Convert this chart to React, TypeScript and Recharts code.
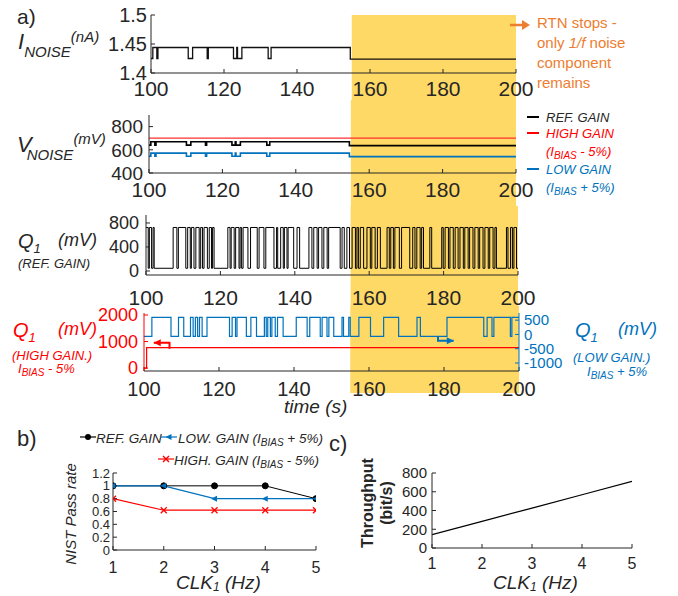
import React from "react";
import { LineChart, Line, XAxis, YAxis, ReferenceArea } from "recharts";

const W = 678;
const FONT = "'Liberation Sans', Arial, Helvetica, sans-serif";
const INK = "#262626";
const BAND = "#FFD966";
const ORANGE = "#ED7D31";
const BLUE = "#0072BD";
const RED = "#FF0000";

// ---- panel a) data, time axis in s ----
const timeTicks = [100, 120, 140, 160, 180, 200];
const rtnStop = 155;

type Pair = [number, number];

// I_NOISE (nA)
const iNoise: Pair[] = [
  [100, 1.425], [100.5, 1.444], [101.6, 1.425], [101.9, 1.444], [110.2, 1.425], [111.4, 1.444],
  [115.4, 1.425], [115.7, 1.444], [122.6, 1.425], [123.5, 1.444], [123.7, 1.425], [124.9, 1.444],
  [132.1, 1.425], [132.9, 1.444], [154.6, 1.424], [200, 1.424],
];

// V_NOISE (mV)
const vRef: Pair[] = [
  [100, 640], [100.5, 670], [101.6, 640], [101.9, 670], [110.2, 640], [111.4, 670],
  [115.4, 640], [115.7, 670], [122.6, 640], [123.5, 670], [123.7, 640], [124.9, 670],
  [132.1, 640], [132.9, 670], [154.6, 636], [200, 636],
];
const vHigh: Pair[] = [[100, 700], [200, 700]];
const vLow: Pair[] = [
  [100, 545], [100.5, 571], [101.6, 545], [101.9, 571], [110.2, 545], [111.4, 571],
  [115.4, 545], [115.7, 571], [122.6, 545], [123.5, 571], [123.7, 545], [124.9, 571],
  [132.1, 545], [132.9, 571], [154.6, 541], [200, 541],
];

// Q1 ref gain: switching times, level alternates high/low starting high
const q1RefEdges = [
  100, 100.6, 100.9, 101.5, 101.9, 102.2, 107.3, 108.3, 108.7, 110.7, 111.2, 111.9, 112.2, 112.9,
  113.4, 114.3, 114.7, 115.2, 115.6, 116.5, 117, 117.6, 117.9, 118.3, 122, 122.6, 122.9, 123.7,
  124.1, 125, 125.3, 125.7, 126.1, 127.4, 128.1, 129.9, 130.4, 131.7, 132.2, 134.4, 135.1, 135.4,
  136.2, 136.9, 137.2, 137.9, 138.2, 139.7, 140.6, 141.3, 143.8, 144.6, 145.1, 146, 146.4, 147.3,
  147.8, 148.7, 149.1, 152.2, 152.7, 153.3, 154, 154.7, 155.4, 156.3, 156.7, 157.1, 157.6, 158.5,
  159.4, 160.3, 160.7, 161.6, 162.2, 163, 164.8, 165.4, 165.8, 166.5, 166.9, 168.1, 168.7, 170.9,
  171.7, 172.3, 172.8, 173.7, 174.1, 174.6, 176.3, 176.8, 179.5, 179.9, 180.4, 181.3, 181.7, 182.6,
  183.1, 183.9, 184.4, 185.3, 185.7, 186.6, 187, 187.9, 188.4, 189.3, 189.7, 190.6, 191.1, 192,
  192.4, 193.3, 193.8, 194.2, 196.9, 197.3, 198, 198.5, 198.9, 199.6,
];
const q1RefLevels = [725, 45];

// Q1 high gain (left axis) and low gain (right axis)
const q1High: Pair[] = [[100, 0], [100.7, 770], [200, 770]];
const q1LowEdges = [
  100, 102.1, 107.2, 109.2, 110.6, 112.4, 113.1, 113.7, 114.3, 114.8, 115.5, 116.8, 122.8, 123.5,
  124.4, 124.8, 127.3, 128.5, 130, 132.1, 132.6, 133, 133.7, 134.1, 135, 135.6, 137.1, 140.6,
  143.5, 144.2, 147, 147.5, 148.8, 149.3, 150.6, 152.8, 153.2, 154.6, 155, 157.3, 160.4, 163.9,
  167.9, 172.8, 173.7, 180.8, 190.6, 191.5, 192.8, 193.3, 197.7, 198.1,
];
const q1LowLevels = [-70, 600];
const redArrow: Pair[] = [[106.8, 730], [106.8, 955], [102.6, 955]];
const blueArrow: Pair[] = [[178.4, -70], [178.4, -220], [182.6, -220]];

// ---- panels b) and c) ----
const clkHz = [1, 2, 3, 4, 5];
const passRef = [1, 1, 1, 1, 0.8];
const passLow = [1, 1, 0.8, 0.8, 0.8];
const passHigh = [0.8, 0.62, 0.62, 0.62, 0.62];
const passTicks = [0, 0.2, 0.4, 0.6, 0.8, 1, 1.2];
const throughput = [142, 284, 426, 568, 710];
const throughputTicks = [0, 200, 400, 600, 800];

const pts = (pairs: Pair[]) => pairs.map(([t, v]) => ({ t, v }));
const steps = (edges: number[], levels: number[]) => {
  const rows = edges.map((t, i) => ({ t, v: levels[i % 2] }));
  rows.push({ t: 200, v: levels[(edges.length - 1) % 2] });
  return rows;
};
const passRows = clkHz.map((c, i) => ({ clk: c, ref: passRef[i], low: passLow[i], high: passHigh[i] }));
const tputRows = clkHz.map((c, i) => ({ clk: c, v: throughput[i] }));

const noLabel = () => <g />;

function T({ x, y, s, c = INK, i, b, children }: any) {
  return (
    <div
      style={{
        position: "absolute", left: x, top: y - 0.846 * s, fontSize: s, lineHeight: 1, color: c,
        fontStyle: i ? "italic" : "normal", fontWeight: b ? "bold" : "normal", whiteSpace: "nowrap",
      }}
    >
      {children}
    </div>
  );
}
const Sub = ({ children, s = "0.72em", dy = "0.3em", ml = 0 }: any) => (
  <span style={{ fontSize: s, position: "relative", top: dy, marginLeft: ml }}>{children}</span>
);

const arrowHead = (color: string, last: number, dir: number) => (props: any) => {
  const { cx, cy, index } = props;
  if (index !== last || cx == null) return <g key={`a${index}`} />;
  const bx = cx - dir * 7;
  return <path key={`a${index}`} d={`M${cx},${cy}L${bx},${cy - 3.5}L${bx},${cy + 3.5}Z`} fill={color} />;
};

function Trace(p: any) {
  const { top, h, l, r, pt, pb, yDomain, yTicks, yFont, xGap, yGap, bandTop, bandBottom, children } = p;
  const yw = 70;
  const [d0, d1] = yDomain;
  const at = (px: number) => d1 - ((px - pt) / (pb - pt)) * (d1 - d0);
  return (
    <div style={{ position: "absolute", left: 0, top }}>
      <LineChart width={W} height={h} margin={{ top: pt - top, right: W - r, bottom: 0, left: l - yw }}>
        <ReferenceArea x1={rtnStop} x2={200} y1={at(bandBottom)} y2={at(bandTop)} fill={BAND} fillOpacity={1} stroke="none" ifOverflow="visible" />
        {children}
        <XAxis dataKey="t" type="number" domain={[100, 200]} ticks={timeTicks} interval={0} allowDataOverflow
          height={top + h - pb} tickSize={-4} tickMargin={xGap + 4} stroke={INK} tick={{ fill: INK, fontSize: 21 }} />
        <XAxis xAxisId="top" orientation="top" type="number" domain={[100, 200]} ticks={timeTicks} interval={0}
          allowDataOverflow height={0} tickSize={-4} stroke={INK} tick={noLabel} />
        <YAxis type="number" domain={yDomain} ticks={yTicks} interval={0} allowDataOverflow width={yw}
          tickSize={-4} tickMargin={yGap + 4} stroke={INK} tick={{ fill: INK, fontSize: yFont }} />
        <YAxis yAxisId="right" orientation="right" type="number" domain={yDomain} ticks={yTicks} interval={0}
          allowDataOverflow width={0} tickSize={-4} stroke={INK} tick={noLabel} />
      </LineChart>
    </div>
  );
}

function SmallChart(p: any) {
  const { top, h, l, r, pt, pb, yDomain, yTicks, yFont, xGap, yGap, data, children } = p;
  const yw = 50;
  return (
    <div style={{ position: "absolute", left: 0, top }}>
      <LineChart width={W} height={h} data={data} margin={{ top: pt - top, right: W - r, bottom: 0, left: l - yw }}>
        {children}
        <XAxis dataKey="clk" type="number" domain={[1, 5]} ticks={clkHz} interval={0} allowDataOverflow
          height={top + h - pb} tickSize={-4} tickMargin={xGap + 4} stroke={INK} tick={{ fill: INK, fontSize: 16 }} />
        <XAxis xAxisId="top" orientation="top" type="number" domain={[1, 5]} ticks={clkHz} interval={0}
          allowDataOverflow height={0} tickSize={-4} stroke={INK} tick={noLabel} />
        <YAxis type="number" domain={yDomain} ticks={yTicks} interval={0} allowDataOverflow width={yw}
          tickSize={-4} tickMargin={yGap + 4} stroke={INK} tick={{ fill: INK, fontSize: yFont }} />
        <YAxis yAxisId="right" orientation="right" type="number" domain={yDomain} ticks={yTicks} interval={0}
          allowDataOverflow width={0} tickSize={-4} stroke={INK} tick={noLabel} />
      </LineChart>
    </div>
  );
}

function Q1Split() {
  const top = 306, h = 92, l = 144, r = 519, pt = 313, pb = 371;
  const dL = [-110, 2075];
  const at = (px: number) => dL[1] - ((px - pt) / (pb - pt)) * (dL[1] - dL[0]);
  return (
    <div style={{ position: "absolute", left: 0, top }}>
      <LineChart width={W} height={h} margin={{ top: pt - top, right: W - r - 60, bottom: 0, left: l - 70 }}>
        <ReferenceArea yAxisId="L" x1={rtnStop} x2={200} y1={at(393)} y2={at(top)} fill={BAND} fillOpacity={1} stroke="none" ifOverflow="visible" />
        <Line data={steps(q1LowEdges, q1LowLevels)} yAxisId="R" dataKey="v" type="stepAfter" stroke={BLUE} strokeWidth={1.2} dot={false} isAnimationActive={false} />
        <Line data={pts(q1High)} yAxisId="L" dataKey="v" type="stepAfter" stroke={RED} strokeWidth={1.2} dot={false} isAnimationActive={false} />
        <Line data={pts(redArrow)} yAxisId="L" dataKey="v" type="linear" stroke={RED} strokeWidth={2} dot={arrowHead(RED, 2, -1)} isAnimationActive={false} />
        <Line data={pts(blueArrow)} yAxisId="R" dataKey="v" type="linear" stroke={BLUE} strokeWidth={2} dot={arrowHead(BLUE, 2, 1)} isAnimationActive={false} />
        <XAxis dataKey="t" type="number" domain={[100, 200]} ticks={timeTicks} interval={0} allowDataOverflow
          height={top + h - pb} tickSize={-4} tickMargin={15} stroke={INK} tick={{ fill: INK, fontSize: 20 }} />
        <XAxis xAxisId="top" orientation="top" type="number" domain={[100, 200]} ticks={timeTicks} interval={0}
          allowDataOverflow height={0} tickSize={-4} stroke={INK} tick={noLabel} />
        <YAxis yAxisId="L" type="number" domain={dL} ticks={[0, 1000, 2000]} interval={0} allowDataOverflow width={70}
          tickSize={-4} tickMargin={10} stroke={RED} tick={{ fill: RED, fontSize: 18 }} />
        <YAxis yAxisId="R" orientation="right" type="number" domain={[-1280, 750]} ticks={[-1000, -500, 0, 500]} interval={0}
          allowDataOverflow width={60} tickSize={-4} tickMargin={9} stroke={BLUE} tick={{ fill: BLUE, fontSize: 15 }} />
      </LineChart>
    </div>
  );
}

const LegendLine = ({ x, y, color }: any) => (
  <div style={{ position: "absolute", left: x, top: y - 1.25, width: 12, height: 2.5, background: color }} />
);

function Marker({ x, y, color, kind }: any) {
  return (
    <svg style={{ position: "absolute", left: x, top: y - 6 }} width={16} height={12}>
      <line x1={0} y1={6} x2={16} y2={6} stroke={color} strokeWidth={1.2} />
      {kind === "dot" && <circle cx={8} cy={6} r={3} fill={color} />}
      {kind === "tri" && <path d="M4.5,6L10.5,3L10.5,9Z" fill={color} />}
      {kind === "x" && <path d="M5,3L11,9M5,9L11,3" stroke={color} strokeWidth={1.4} />}
    </svg>
  );
}

export default function App() {
  const dotTri = (props: any) => {
    const { cx, cy, index } = props;
    return <path key={`t${index}`} d={`M${cx - 3.5},${cy}L${cx + 2.5},${cy - 3}L${cx + 2.5},${cy + 3}Z`} fill={BLUE} />;
  };
  const dotX = (props: any) => {
    const { cx, cy, index } = props;
    return <path key={`x${index}`} d={`M${cx - 3},${cy - 3}L${cx + 3},${cy + 3}M${cx - 3},${cy + 3}L${cx + 3},${cy - 3}`} stroke={RED} strokeWidth={1.3} />;
  };

  return (
    <div style={{ position: "absolute", left: 0, top: 0, width: W, height: 596, background: "#fff", fontFamily: FONT, color: INK }}>
      <style>{`.recharts-surface{overflow:visible}`}</style>

      <Trace top={0} h={100} l={151} r={516} pt={15} pb={73} yDomain={[1.4, 1.5]} yTicks={[1.4, 1.45, 1.5]}
        yFont={20} xGap={8} yGap={4} bandTop={15} bandBottom={100}>
        <Line data={pts(iNoise)} dataKey="v" type="stepAfter" stroke="#111" strokeWidth={1.3} dot={false} isAnimationActive={false} />
      </Trace>

      <Trace top={100} h={106} l={149} r={516} pt={115} pb={173} yDomain={[400, 900]} yTicks={[400, 600, 800]}
        yFont={19} xGap={9} yGap={6} bandTop={100} bandBottom={206}>
        <Line data={pts(vHigh)} dataKey="v" type="stepAfter" stroke="#FF3030" strokeWidth={1.3} dot={false} isAnimationActive={false} />
        <Line data={pts(vRef)} dataKey="v" type="stepAfter" stroke="#000" strokeWidth={1.6} dot={false} isAnimationActive={false} />
        <Line data={pts(vLow)} dataKey="v" type="stepAfter" stroke={BLUE} strokeWidth={1.6} dot={false} isAnimationActive={false} />
      </Trace>

      <Trace top={206} h={100} l={146} r={518} pt={215} pb={275} yDomain={[-67, 933]} yTicks={[0, 400, 800]}
        yFont={18} xGap={15} yGap={7} bandTop={206} bandBottom={306}>
        <Line data={steps(q1RefEdges, q1RefLevels)} dataKey="v" type="stepAfter" stroke="#000" strokeWidth={1} dot={false} isAnimationActive={false} />
      </Trace>

      <Q1Split />

      {/* panel a) labels */}
      <T x={17} y={24} s={21}>a)</T>
      <T x={18} y={50} s={22} i>I<Sub s={15} dy="0.5em">NOISE</Sub><Sub s={15} dy="-0.5em">(nA)</Sub></T>
      <T x={17} y={153} s={22} i>V<Sub s={15} dy="0.5em" ml={-5}>NOISE</Sub><Sub s={15} dy="-0.55em">(mV)</Sub></T>
      <T x={18} y={248} s={20} i>Q<Sub s={13} dy="0.35em">1</Sub></T>
      <T x={58} y={246} s={18} i>(mV)</T>
      <T x={18} y={268} s={13} i>(REF. GAIN)</T>

      <T x={13} y={337} s={20} i c={RED}>Q<Sub s={13} dy="0.35em">1</Sub></T>
      <T x={58} y={335} s={18} i c={RED}>(mV)</T>
      <T x={12} y={360} s={13} i c={RED}>(HIGH GAIN.)</T>
      <T x={18} y={373} s={13} i c={RED}>I<Sub s={10}>BIAS</Sub> - 5%</T>

      <T x={575} y={337} s={20} i c={BLUE}>Q<Sub s={13} dy="0.35em">1</Sub></T>
      <T x={618} y={335} s={18} i c={BLUE}>(mV)</T>
      <T x={573} y={362} s={13} i c={BLUE}>(LOW GAIN.)</T>
      <T x={587} y={376} s={13} i c={BLUE}>I<Sub s={10}>BIAS</Sub> + 5%</T>

      <T x={284} y={413} s={19} i>time (s)</T>

      {/* RTN note */}
      <svg style={{ position: "absolute", left: 508, top: 19 }} width={24} height={12}>
        <line x1={2} y1={6} x2={15} y2={6} stroke={ORANGE} strokeWidth={2.5} />
        <path d="M14,1L22,6L14,11Z" fill={ORANGE} />
      </svg>
      <T x={537} y={28} s={15} c={ORANGE}>RTN stops -</T>
      <T x={537} y={48} s={15} c={ORANGE}>only <i>1/f</i> noise</T>
      <T x={537} y={68} s={15} c={ORANGE}>component</T>
      <T x={537} y={88} s={15} c={ORANGE}>remains</T>

      {/* V_NOISE legend */}
      <LegendLine x={527} y={117} color="#000" />
      <T x={546} y={122} s={13} i>REF. GAIN</T>
      <LegendLine x={527} y={133} color={RED} />
      <T x={546} y={138} s={13} i c={RED}>HIGH GAIN</T>
      <T x={546} y={156} s={13} i c={RED}>(I<Sub s={10}>BIAS</Sub> - 5%)</T>
      <LegendLine x={527} y={169} color={BLUE} />
      <T x={546} y={174} s={13} i c={BLUE}>LOW GAIN</T>
      <T x={546} y={192} s={13} i c={BLUE}>(I<Sub s={10}>BIAS</Sub> + 5%)</T>

      {/* panel b) */}
      <SmallChart top={465} h={131} l={113} r={316} pt={473} pb={550} yDomain={[0, 1.2]} yTicks={passTicks}
        yFont={13} xGap={12} yGap={3} data={passRows}>
        <Line dataKey="ref" stroke="#000" strokeWidth={1} dot={{ r: 3, fill: "#000", stroke: "#000" }} isAnimationActive={false} />
        <Line dataKey="low" stroke={BLUE} strokeWidth={1.2} dot={dotTri} isAnimationActive={false} />
        <Line dataKey="high" stroke={RED} strokeWidth={1.2} dot={dotX} isAnimationActive={false} />
      </SmallChart>
      <T x={17} y={447} s={22}>b)</T>
      <Marker x={80} y={437} color="#000" kind="dot" />
      <T x={96} y={443} s={13.5} i>REF. GAIN</T>
      <Marker x={161} y={437} color={BLUE} kind="tri" />
      <T x={178} y={443} s={13.5} i>LOW. GAIN (I<Sub s={10}>BIAS</Sub> + 5%)</T>
      <Marker x={158} y={459} color={RED} kind="x" />
      <T x={174} y={465} s={13.5} i>HIGH. GAIN (I<Sub s={10}>BIAS</Sub> - 5%)</T>
      <div style={{ position: "absolute", left: 70, top: 514, transform: "translate(-50%,-50%) rotate(-90deg)", fontSize: 15, fontStyle: "italic", whiteSpace: "nowrap" }}>
        NIST Pass rate
      </div>
      <T x={176} y={589} s={19} i>CLK<Sub s={12} dy="0.2em">1</Sub> (Hz)</T>

      {/* panel c) */}
      <SmallChart top={465} h={131} l={432} r={632} pt={473} pb={548} yDomain={[0, 800]} yTicks={throughputTicks}
        yFont={15} xGap={10} yGap={5} data={tputRows}>
        <Line dataKey="v" stroke="#000" strokeWidth={1.2} dot={false} isAnimationActive={false} />
      </SmallChart>
      <T x={329} y={452} s={22}>c)</T>
      <div style={{ position: "absolute", left: 377, top: 503, transform: "translate(-50%,-50%) rotate(-90deg)", fontSize: 16, fontWeight: "bold", lineHeight: "19px", textAlign: "center", whiteSpace: "nowrap" }}>
        Throughput<br />(bit/s)
      </div>
      <T x={493} y={589} s={19} i>CLK<Sub s={12} dy="0.2em">1</Sub> (Hz)</T>
    </div>
  );
}
